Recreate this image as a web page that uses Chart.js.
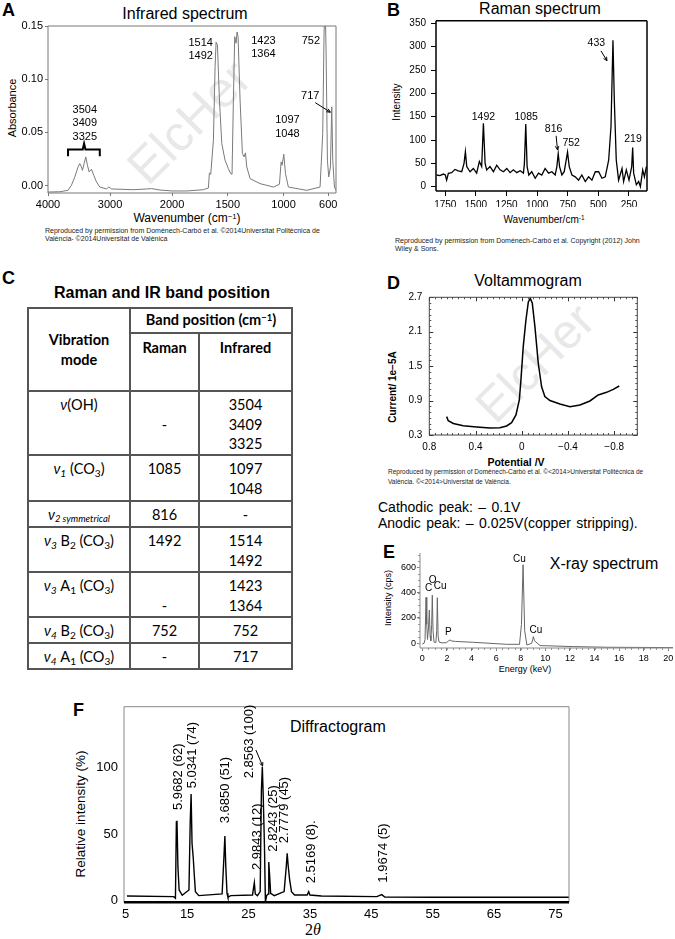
<!DOCTYPE html>
<html>
<head>
<meta charset="utf-8">
<title>Copper carbonate characterization</title>
<script src="https://cdn.jsdelivr.net/npm/chart.js@4.4.1/dist/chart.umd.min.js"></script>
<style>
  html, body { margin: 0; padding: 0; background: #fff; }
  body { position: relative; width: 675px; height: 939px; overflow: hidden;
         font-family: "Liberation Sans", Arial, sans-serif; color: #000; }
  canvas { position: absolute; }
  .t { position: absolute; white-space: nowrap; line-height: 1; }
  .c { transform: translate(-50%, -50%); }
  .l { transform: translate(0, -50%); }
  .v { transform: translate(-50%, -50%) rotate(-90deg); }
  .letter { font-weight: bold; font-size: 18px; }
  .title { font-size: 16px; }
  .cap { font-size: 7px; color: #222; }
  .wm { position: absolute; color: #e8e8e8; white-space: nowrap; line-height: 1;
        transform: translate(-50%, -50%) rotate(-45deg); }
  sup { font-size: 65%; vertical-align: 0; position: relative; top: -0.45em; }
  #bands { position: absolute; left: 27px; top: 307px; width: 264px; border-collapse: collapse;
           table-layout: fixed; font-family: Lato, "Open Sans", sans-serif; font-size: 14.5px; }
  #bands td, #bands th { border: 2px solid #555; padding: 0; text-align: center; line-height: 19.5px; }
  #bands th { font-weight: bold; vertical-align: middle; }
  #bands th.top { vertical-align: top; padding-top: 4px; }
  #bands td { vertical-align: top; padding-top: 3px; }
  #bands sub { font-size: 70%; line-height: 0; vertical-align: -0.25em; }
</style>
</head>
<body>

<div class="wm" style="left:189px;top:122px;font-size:50px">ElcHer</div>
<div class="wm" style="left:535px;top:363px;font-size:48px">ElcHer</div>

<!-- A -->
<div class="t letter" style="left:2px;top:1px">A</div>
<div class="t title c" style="left:185px;top:14px">Infrared spectrum</div>
<div class="t v" style="left:12px;top:108px;font-size:11px">Absorbance</div>
<div class="t c" style="left:187px;top:218px;font-size:12px">Wavenumber (cm<sup>−1</sup>)</div>
<div class="t cap" style="left:45px;top:227px">Reproduced by permission from Doménech-Carbó et al. ©2014Universitat Politècnica de</div>
<div class="t cap" style="left:45px;top:235px">València- ©2014Universitat de Valènica</div>

<!-- B -->
<div class="t letter" style="left:387px;top:1px">B</div>
<div class="t title c" style="left:540px;top:9px">Raman spectrum</div>
<div class="t v" style="left:397px;top:102px;font-size:10px">Intensity</div>
<div class="t c" style="left:544px;top:220px;font-size:10px">Wavenumber/cm<sup>-1</sup></div>
<div class="t cap" style="left:395px;top:237px">Reproduced by permission from Doménech-Carbó et al. Copyright (2012) John</div>
<div class="t cap" style="left:395px;top:245px">Wiley &amp; Sons.</div>

<!-- C -->
<div class="t letter" style="left:2px;top:269px">C</div>
<div class="t c" style="left:162px;top:293px;font-size:16px;font-weight:bold">Raman and IR band position</div>
<table id="bands">
  <colgroup><col style="width:102px"><col style="width:69px"><col style="width:93px"></colgroup>
  <thead>
    <tr style="height:25px"><th rowspan="2">Vibration<br>mode</th><th colspan="2">Band position (cm<sup>−1</sup>)</th></tr>
    <tr style="height:58px"><th class="top">Raman</th><th class="top">Infrared</th></tr>
  </thead>
  <tbody id="bandsBody"></tbody>
</table>

<!-- D -->
<div class="t letter" style="left:387px;top:274px">D</div>
<div class="t title c" style="left:528px;top:281px">Voltammogram</div>
<div class="t v" style="left:393px;top:387px;font-size:10px;font-weight:bold">Current/ 1e−5A</div>
<div class="t c" style="left:516px;top:462px;font-size:10.5px;font-weight:bold">Potential /V</div>
<div class="t cap" style="left:388px;top:469px;font-size:6.5px">Reproduced by permission of Doménech-Carbó et al. ©&lt;2014&gt;Universitat Politècnica de</div>
<div class="t cap" style="left:388px;top:479px;font-size:6.5px">València. ©&lt;2014&gt;Universitat de València.</div>
<div class="t l" style="left:378px;top:507px;font-size:14px;word-spacing:1.5px">Cathodic peak: – 0.1V</div>
<div class="t l" style="left:378px;top:523px;font-size:14px;word-spacing:1.5px">Anodic peak: – 0.025V(copper stripping).</div>

<!-- E -->
<div class="t letter" style="left:383px;top:543px">E</div>
<div class="t title c" style="left:604px;top:564px">X-ray spectrum</div>
<div class="t v" style="left:388px;top:598px;font-size:9px">Intensity (cps)</div>
<div class="t c" style="left:525px;top:669px;font-size:9px">Energy (keV)</div>

<!-- F -->
<div class="t letter" style="left:73px;top:701px">F</div>
<div class="t title l" style="left:290px;top:727px">Diffractogram</div>
<div class="t v" style="left:81px;top:814px;font-size:13.5px">Relative intensity (%)</div>
<div class="t c" style="left:313px;top:930px;font-size:16px;font-family:'Liberation Serif',serif">2<i>θ</i></div>

<canvas id="irChart"></canvas>
<canvas id="ramanChart"></canvas>
<canvas id="voltChart"></canvas>
<canvas id="xrayChart"></canvas>
<canvas id="xrdChart"></canvas>

<script>
// ---- A: infrared spectrum ----
const irWavenumber = [4000, 3811, 3677, 3623, 3569, 3515, 3488, 3461, 3445, 3418, 3391, 3364, 3337, 3299, 3262, 3218,
  3165, 3057, 3019, 2976, 2626, 2410, 2329, 2194, 2000, 1868, 1719, 1674, 1665, 1653, 1629, 1614, 1605, 1593, 1575,
  1554, 1525, 1495, 1474, 1462, 1450, 1438, 1426, 1417, 1408, 1390, 1369, 1354, 1342, 1330, 1300, 1211, 1091, 1037,
  1022, 1013, 998, 983, 957, 792, 673, 649, 637, 628, 619, 607, 595, 580, 568, 559, 544, 530];
const irAbsorbance = [-0.006, -0.0057, -0.0044, 0.0003, 0.008, 0.0176, 0.0207, 0.0176, 0.0144, 0.0207, 0.027, 0.0192,
  0.0129, 0.0154, 0.0097, 0.0035, -0.0013, -0.0031, -0.0013, -0.0031, -0.0038, -0.0031, -0.0028, -0.0041, -0.005,
  -0.005, -0.0038, -0.0022, 0.0119, 0.0107, 0.0427, 0.1118, 0.1347, 0.1322, 0.0804, 0.0396, 0.0239, 0.016, 0.0113,
  0.0107, 0.0804, 0.14, 0.1338, 0.1444, 0.14, 0.0804, 0.0301, 0.027, 0.0308, 0.0176, 0.0066, 0.0019, -0.0013, 0.0013,
  0.0223, 0.0192, 0.0295, 0.0113, -0.0013, -0.0044, -0.0013, 0.049, 0.1432, 0.175, 0.1275, 0.0239, 0.0082, 0.0176,
  0.0741, 0.0239, -0.0013, -0.0044];
const irTicks = [4000, 3000, 2000, 1500, 1000, 600];
const irYTicks = [0, 0.05, 0.10, 0.15];
const irLabelText = ['3504\n3409\n3325', '1514\n1492', '1423\n1364', '1097\n1048', '752', '717'];
const irLabelWn = [3407, 1743, 1181, 965, 755, 761];
const irLabelAbs = [0.071, 0.134, 0.136, 0.0615, 0.136, 0.084];
const irArrowWn = [716, 581];
const irArrowAbs = [0.078, 0.069];
const irBracketWn = [3677, 3677, 3440, 3418, 3396, 3165, 3165];
const irBracketAbs = [0.0276, 0.034, 0.034, 0.0396, 0.034, 0.034, 0.0276];

// ---- B: Raman spectrum ----
const ramanWavenumber = [1821, 1794, 1766, 1750, 1739, 1725, 1698, 1671, 1644, 1616, 1597, 1586, 1575, 1548, 1521,
  1494, 1472, 1453, 1439, 1425, 1412, 1385, 1357, 1330, 1303, 1275, 1248, 1221, 1194, 1166, 1139, 1112, 1104, 1093,
  1082, 1068, 1044, 1016, 989, 962, 935, 907, 880, 853, 839, 828, 817, 798, 779, 763, 752, 738, 716, 689, 662, 635,
  607, 580, 553, 525, 498, 471, 444, 416, 397, 381, 370, 354, 335, 307, 294, 272, 250, 228, 220, 212, 190, 171, 157,
  138, 124, 108];
const ramanIntensity = [25, 23.6, 27, 25, 14, 28.6, 30, 37, 34, 32, 50, 75, 43, 32, 39, 29, 54, 43, 136, 50, 36, 43,
  32, 46, 36, 32, 39, 30, 36, 30, 34, 29, 50, 134, 43, 25, 32, 18, 29, 25, 39, 29, 32, 25, 43, 71, 43, 25, 32, 57, 74,
  43, 25, 21, 14, 25, 11, 21, 14, 32, 32, 18, 21, 57, 129, 314, 186, 57, 14, 39, 11, 36, 14, 43, 84, 29, 4, 11, 0, 36,
  21, 43];
const ramanTicks = [1750, 1500, 1250, 1000, 750, 500, 250];
const ramanYTicks = [0, 50, 100, 150, 200, 250, 300, 350];
const ramanLabelText = ['1492', '1085', '816', '752', '433', '219'];
const ramanLabelWn = [1439, 1090, 866, 722, 517, 217];
const ramanLabelInt = [150, 150, 123, 93, 307, 101];
const ramanArrowFrom = [[845, 109], [479, 291]];
const ramanArrowTo = [[834, 79], [430, 270]];

// ---- D: voltammogram ----
const voltPotential = [0.65, 0.636, 0.592, 0.506, 0.39, 0.275, 0.189, 0.131, 0.088, 0.05, 0.021, 0.007, -0.013,
  -0.036, -0.057, -0.074, -0.091, -0.114, -0.143, -0.172, -0.2, -0.244, -0.33, -0.417, -0.504, -0.59, -0.662, -0.734,
  -0.792, -0.844];
const voltCurrent = [0.62, 0.55, 0.50, 0.463, 0.44, 0.422, 0.428, 0.457, 0.515, 0.65, 0.91, 1.26, 1.84, 2.30, 2.62,
  2.68, 2.60, 2.19, 1.55, 1.14, 0.97, 0.90, 0.84, 0.794, 0.823, 0.893, 0.997, 1.044, 1.096, 1.154];
const voltTicks = [0.8, 0.4, 0, -0.4, -0.8];
const voltTickLabels = ['0.8', '0.4', '0', '−0.4', '−0.8'];
const voltYTicks = [0.3, 0.9, 1.5, 2.1, 2.7];

// ---- E: X-ray spectrum ----
const xrayEnergy = [0, 0.14, 0.22, 0.30, 0.36, 0.42, 0.50, 0.57, 0.63, 0.69, 0.76, 0.81, 0.87, 0.95, 1.10, 1.17,
  1.22, 1.28, 1.36, 1.6, 1.98, 2.12, 2.25, 2.4, 2.7, 3.06, 4.15, 5.5, 6.86, 7.9, 8.06, 8.19, 8.32, 8.5, 8.89, 8.97,
  9.03, 9.12, 9.57, 12.3, 15, 20.4];
const xrayCounts = [-5, 0, 30, 363, 150, 30, 120, 263, 60, 20, 150, 380, 100, 10, 5, 100, 360, 60, 10, 3, 5, 20, 26,
  18, 15, 13, 8, 0, -8, -8, 150, 620, 100, -13, 0, 30, 53, 20, -18, -26, -31, -34];
const xrayTicks = [0, 2, 4, 6, 8, 10, 12, 14, 16, 18, 20];
const xrayYTicks = [0, 200, 400, 600];
const xrayLabelText = ['C', 'O', 'Cu', 'P', 'Cu', 'Cu'];
const xrayLabelE = [0.5, 0.84, 1.44, 2.11, 7.9, 9.24];
const xrayLabelI = [437, 500, 450, 87, 663, 105];

// ---- F: diffractogram ----
const xrdTheta = [5.2, 12.8, 13.1, 13.25, 13.35, 13.5, 13.7, 14.2, 15.3, 15.5, 15.65, 15.8, 16.0, 16.15, 16.35, 16.9,
  20.7, 21.0, 21.15, 21.3, 21.5, 21.65, 22.1, 25.65, 25.85, 25.95, 26.1, 26.45, 26.9, 27.1, 27.25, 27.4, 27.6, 27.75,
  27.95, 28.2, 28.3, 28.45, 28.6, 29.2, 30.8, 31.15, 31.3, 31.45, 31.7, 32.0, 32.5, 34.55, 34.8, 35.0, 36.9, 45.9,
  46.7, 47.2, 55.1, 77.2];
const xrdIntensity = [3.5, 3, 1.75, 59, 60, 25.5, 8, 4, 8, 58, 80, 43, 32, 20.5, 6.75, 3.75, 5, 33, 48.5, 25.5, 5.5,
  2.5, 3.75, 4.25, 10.5, 13.5, 5, 3.75, 6.75, 83, 100.5, 78, 40.5, -1, 3.75, 5, 29, 18, 5.5, 3.75, 6.75, 25.5, 35.5,
  26.75, 15.5, 6.75, 4.25, 4.25, 6.75, 4.25, 3.5, 3, 4.5, 2.75, 2.5, 2.5];
const xrdTicks = [5, 15, 25, 35, 45, 55, 65, 75];
const xrdYTicks = [0, 50, 100];
const xrdLabelText = ['5.9682 (62)', '5.0341 (74)', '3.6850 (51)', '2.8563 (100)', '2.9843 (12)', '2.8243 (25)',
  '2.7779 (45)', '2.5169 (8).', '1.9674 (5)'];
const xrdLabelTheta = [13.62, 15.82, 21.28, 25.2, 26.48, 29.1, 30.84, 35.2, 46.97];
const xrdLabelInt = [68, 84.25, 58, 91.75, 23, 36.75, 43, 13, 13.5];
const xrdArrowTheta = [26.2, 27.3];
const xrdArrowInt = [113, 101];

// ---- C: band table ----
const bandModes = ['<i>ν</i>(OH)', '<i>ν<sub>1</sub></i> (CO<sub>3</sub>)',
  '<i>ν<sub style="font-size:65%">2 symmetrical</sub></i>', '<i>ν<sub>3</sub></i> B<sub>2</sub> (CO<sub>3</sub>)',
  '<i>ν<sub>3</sub></i> A<sub>1</sub> (CO<sub>3</sub>)', '<i>ν<sub>4</sub></i> B<sub>2</sub> (CO<sub>3</sub>)',
  '<i>ν<sub>4</sub></i> A<sub>1</sub> (CO<sub>3</sub>)'];
const bandRaman = ['\n-', '1085', '816', '1492', '\n-', '752', '-'];
const bandInfrared = ['3504\n3409\n3325', '1097\n1048', '-', '1514\n1492', '1423\n1364', '752', '717'];
const bandRowHeights = [64, 46, 26, 45, 45, 26, 26];

const tbody = document.getElementById('bandsBody');
bandModes.forEach((mode, i) => {
  const tr = document.createElement('tr');
  tr.style.height = bandRowHeights[i] + 'px';
  [mode, bandRaman[i], bandInfrared[i]].forEach(v => {
    const td = document.createElement('td');
    td.innerHTML = v.replace(/\n/g, '<br>');
    tr.appendChild(td);
  });
  tbody.appendChild(tr);
});

// ---- helpers ----
const SANS = '"Liberation Sans", Arial, sans-serif';

// IR instruments squeeze the range above 2000 cm-1
const irSqueeze = 0.556;
function irAxis(w) {
  return w > 2000 ? 2000 + (w - 2000) * irSqueeze : w;
}

function axis(o) {
  return {
    type: 'linear',
    min: o.min,
    max: o.max,
    reverse: !!o.reverse,
    border: { display: false },
    grid: {
      display: true, drawOnChartArea: false, drawTicks: o.tick > 0,
      tickLength: o.tick, color: o.tickColor || '#000', tickWidth: 1,
    },
    ticks: {
      autoSkip: false, maxRotation: 0, minRotation: 0, padding: o.pad, color: '#000',
      font: { family: SANS, size: o.fontSize },
      callback: (v, i) => o.labels[i],
    },
    afterBuildTicks: s => { s.ticks = o.ticks.map(v => ({ value: v })); },
    afterFit: s => {
      if (o.horizontal) { s.height = o.size; s.paddingLeft = 0; s.paddingRight = 0; }
      else { s.width = o.size; s.paddingTop = 0; s.paddingBottom = 0; }
    },
  };
}

function arrow(ctx, x1, y1, x2, y2, head) {
  const a = Math.atan2(y2 - y1, x2 - x1);
  ctx.beginPath();
  ctx.moveTo(x1, y1);
  ctx.lineTo(x2, y2);
  ctx.moveTo(x2 - head * Math.cos(a - 0.45), y2 - head * Math.sin(a - 0.45));
  ctx.lineTo(x2, y2);
  ctx.lineTo(x2 - head * Math.cos(a + 0.45), y2 - head * Math.sin(a + 0.45));
  ctx.stroke();
}

// frame, tick marks, peak labels, arrows and brackets
function decor(spec) {
  return {
    id: 'decor',
    afterDatasetsDraw(chart) {
      const { ctx, chartArea: a, scales: { x, y } } = chart;
      ctx.save();
      (spec.marks || []).forEach(m => {
        ctx.strokeStyle = m.color;
        ctx.lineWidth = 1;
        ctx.beginPath();
        const dir = m.inward ? 1 : -1;
        if (m.x) {
          for (let k = 0; ; k++) {
            const v = m.x[0] + k * m.x[1];
            if (v > x.max + 1e-9) break;
            if (v < x.min - 1e-9) continue;
            const p = Math.round(x.getPixelForValue(v)) + 0.5;
            if (m.sides.includes('b')) { ctx.moveTo(p, a.bottom); ctx.lineTo(p, a.bottom - dir * m.len); }
            if (m.sides.includes('t')) { ctx.moveTo(p, a.top); ctx.lineTo(p, a.top + dir * m.len); }
          }
        }
        if (m.y) {
          for (let k = 0; ; k++) {
            const v = m.y[0] + k * m.y[1];
            if (v > y.max + 1e-9) break;
            if (v < y.min - 1e-9) continue;
            const p = Math.round(y.getPixelForValue(v)) + 0.5;
            if (m.sides.includes('l')) { ctx.moveTo(a.left, p); ctx.lineTo(a.left + dir * m.len, p); }
            if (m.sides.includes('r')) { ctx.moveTo(a.right, p); ctx.lineTo(a.right - dir * m.len, p); }
          }
        }
        ctx.stroke();
      });
      (spec.frames || []).forEach(f => {
        ctx.strokeStyle = f.color;
        ctx.lineWidth = f.width;
        ctx.beginPath();
        if (f.sides.includes('t')) { ctx.moveTo(a.left, a.top); ctx.lineTo(a.right, a.top); }
        if (f.sides.includes('b')) { ctx.moveTo(a.left, a.bottom); ctx.lineTo(a.right, a.bottom); }
        if (f.sides.includes('l')) { ctx.moveTo(a.left, a.top); ctx.lineTo(a.left, a.bottom); }
        if (f.sides.includes('r')) { ctx.moveTo(a.right, a.top); ctx.lineTo(a.right, a.bottom); }
        ctx.stroke();
      });
      ctx.fillStyle = '#000';
      ctx.strokeStyle = '#000';
      ctx.font = spec.font;
      (spec.labels || []).forEach(l => {
        const px = x.getPixelForValue(l.x), py = y.getPixelForValue(l.y);
        if (spec.rotate) {
          ctx.save();
          ctx.translate(px, py);
          ctx.rotate(-Math.PI / 2);
          ctx.textAlign = 'left';
          ctx.textBaseline = 'middle';
          ctx.fillText(l.text, 0, 0);
          ctx.restore();
        } else {
          ctx.textAlign = 'center';
          ctx.textBaseline = 'middle';
          l.text.split('\n').forEach((s, i) => ctx.fillText(s, px, py + i * spec.lineHeight));
        }
      });
      ctx.lineWidth = 1;
      (spec.arrows || []).forEach(r => {
        arrow(ctx, x.getPixelForValue(r[0]), y.getPixelForValue(r[1]),
          x.getPixelForValue(r[2]), y.getPixelForValue(r[3]), 4);
      });
      (spec.paths || []).forEach(path => {
        ctx.lineWidth = 2;
        ctx.beginPath();
        path.forEach((pt, i) => {
          const px = x.getPixelForValue(pt[0]), py = y.getPixelForValue(pt[1]);
          if (i === 0) ctx.moveTo(px, py); else ctx.lineTo(px, py);
        });
        ctx.stroke();
      });
      ctx.restore();
    },
  };
}

function plot(id, box, area, xAxis, yAxis, dataset, spec) {
  const cv = document.getElementById(id);
  cv.width = box.w;
  cv.height = box.h;
  cv.style.left = box.l + 'px';
  cv.style.top = box.t + 'px';
  return new Chart(cv, {
    type: 'scatter',
    data: { datasets: [dataset] },
    options: {
      responsive: false,
      animation: false,
      events: [],
      layout: {
        autoPadding: false,
        padding: {
          left: area.l - box.l - yAxis.size,
          top: area.t - box.t,
          right: box.l + box.w - area.r,
          bottom: box.t + box.h - area.b - xAxis.size,
        },
      },
      plugins: { legend: { display: false }, tooltip: { enabled: false } },
      scales: { x: axis(Object.assign({ horizontal: true }, xAxis)), y: axis(yAxis) },
    },
    plugins: [decor(spec)],
  });
}

function series(xs, ys, color, width) {
  return {
    data: xs.map((v, i) => ({ x: v, y: ys[i] })),
    showLine: true, pointRadius: 0, borderColor: color, borderWidth: width, tension: 0, fill: false,
  };
}

// ---- A ----
plot('irChart', { l: 0, t: 20, w: 340, h: 195 }, { l: 48, t: 26, r: 336, b: 193 },
  { min: 530, max: irAxis(4000), reverse: true, ticks: irTicks.map(irAxis), labels: irTicks.map(String),
    fontSize: 11, pad: 2, tick: 3, tickColor: '#777', size: 15 },
  { min: -0.0069, max: 0.15, ticks: irYTicks, labels: irYTicks.map(v => v.toFixed(2)),
    fontSize: 11, pad: 2, tick: 3, tickColor: '#777', size: 40 },
  series(irWavenumber.map(irAxis), irAbsorbance, '#7a7a7a', 1),
  {
    frames: [{ sides: 'tlrb', color: '#777', width: 1 }],
    font: '11px ' + SANS, lineHeight: 13.3,
    labels: irLabelText.map((t, i) => ({ text: t, x: irAxis(irLabelWn[i]), y: irLabelAbs[i] })),
    arrows: [[irAxis(irArrowWn[0]), irArrowAbs[0], irAxis(irArrowWn[1]), irArrowAbs[1]]],
    paths: [irBracketWn.map((w, i) => [irAxis(w), irBracketAbs[i]])],
  });

// ---- B ----
plot('ramanChart', { l: 345, t: 12, w: 330, h: 200 }, { l: 436, t: 20.7, r: 647, b: 191 },
  { min: 103, max: 1826, reverse: true, ticks: ramanTicks, labels: ramanTicks.map(String),
    fontSize: 10, pad: 3, tick: 5, size: 16 },
  { min: -9.3, max: 355.7, ticks: ramanYTicks, labels: ramanYTicks.map(String),
    fontSize: 10, pad: 5, tick: 5, size: 40 },
  series(ramanWavenumber, ramanIntensity, '#000', 1.3),
  {
    frames: [{ sides: 'tlrb', color: '#000', width: 1.5 }],
    font: '10.5px ' + SANS, lineHeight: 12,
    labels: ramanLabelText.map((t, i) => ({ text: t, x: ramanLabelWn[i], y: ramanLabelInt[i] })),
    arrows: ramanArrowFrom.map((f, i) => [f[0], f[1], ramanArrowTo[i][0], ramanArrowTo[i][1]]),
  });

// ---- D ----
plot('voltChart', { l: 340, t: 290, w: 335, h: 165 }, { l: 429.3, t: 297.3, r: 637.3, b: 435 },
  { min: -1.0, max: 0.8, reverse: true, ticks: voltTicks, labels: voltTickLabels,
    fontSize: 10, pad: 6, tick: 0, size: 16 },
  { min: 0.3, max: 2.7, ticks: voltYTicks, labels: voltYTicks.map(v => v.toFixed(1)),
    fontSize: 10, pad: 7, tick: 0, size: 30 },
  series(voltPotential, voltCurrent, '#000', 1.5),
  {
    marks: [
      { x: [-1.0, 0.05], y: [0.3, 0.1], len: 2, sides: 'tblr', inward: true, color: '#555' },
      { x: [-0.8, 0.4], y: [0.3, 0.6], len: 4, sides: 'tblr', inward: true, color: '#333' },
    ],
    frames: [{ sides: 'tlrb', color: '#444', width: 1 }],
    font: '10px ' + SANS,
  });

// ---- E ----
plot('xrayChart', { l: 390, t: 545, w: 285, h: 120 }, { l: 420, t: 553, r: 673, b: 648 },
  { min: -0.19, max: 20.38, ticks: xrayTicks, labels: xrayTicks.map(String),
    fontSize: 9, pad: 2, tick: 3, tickColor: '#777', size: 14 },
  { min: -37, max: 713, ticks: xrayYTicks, labels: xrayYTicks.map(String),
    fontSize: 9, pad: 1, tick: 3, tickColor: '#777', size: 28 },
  series(xrayEnergy, xrayCounts, '#666', 1),
  {
    marks: [
      { x: [0, 0.5], len: 2, sides: 'b', inward: false, color: '#999' },
      { y: [0, 50], len: 2, sides: 'l', inward: false, color: '#999' },
    ],
    frames: [{ sides: 'lb', color: '#888', width: 1 }],
    font: '10px ' + SANS, lineHeight: 11,
    labels: xrayLabelText.map((t, i) => ({ text: t, x: xrayLabelE[i], y: xrayLabelI[i] })),
  });

// ---- F ----
plot('xrdChart', { l: 85, t: 700, w: 590, h: 225 }, { l: 124, t: 706.7, r: 569, b: 902.3 },
  { min: 4.72, max: 77.2, ticks: xrdTicks, labels: xrdTicks.map(String),
    fontSize: 13, pad: 4.5, tick: 0, size: 20 },
  { min: -1.25, max: 145.5, ticks: xrdYTicks, labels: xrdYTicks.map(String),
    fontSize: 13, pad: 6, tick: 0, size: 36 },
  series(xrdTheta, xrdIntensity, '#000', 1.4),
  {
    frames: [{ sides: 'tlr', color: '#888', width: 1 }, { sides: 'b', color: '#000', width: 2.5 }],
    font: '13px ' + SANS, rotate: true,
    labels: xrdLabelText.map((t, i) => ({ text: t, x: xrdLabelTheta[i], y: xrdLabelInt[i] })),
    arrows: [[xrdArrowTheta[0], xrdArrowInt[0], xrdArrowTheta[1], xrdArrowInt[1]]],
  });
</script>
</body>
</html>
